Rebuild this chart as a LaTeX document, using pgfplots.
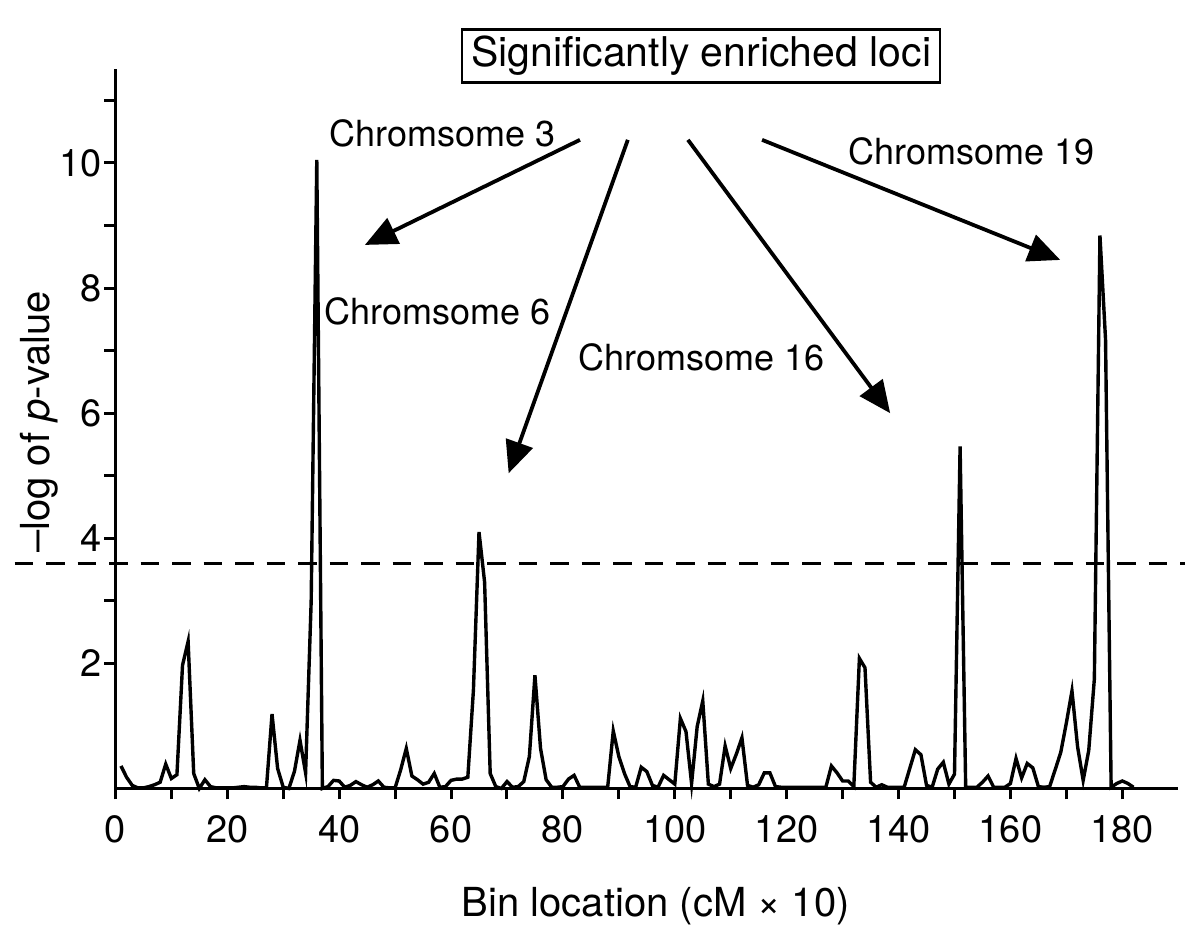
\documentclass[border=0pt]{standalone}
\usepackage{fontspec}
\setmainfont{TeX Gyre Heros}
\usepackage{pgfplots}
\usepackage{pgfplotstable}
\pgfplotsset{compat=1.18}
\usetikzlibrary{arrows.meta}

% -log p-value per bin
\pgfplotstableread{
bin p
1 0.36
2 0.18
3 0.05
4 0.01
5 0.01
6 0.03
7 0.06
8 0.10
9 0.39
10 0.16
11 0.22
12 1.97
13 2.35
14 0.24
15 0.00
16 0.14
17 0.03
18 0.01
19 0.01
20 0.01
21 0.01
22 0.02
23 0.03
24 0.02
25 0.02
26 0.01
27 0.01
28 1.19
29 0.32
30 0.02
31 0.00
32 0.27
33 0.77
34 0.25
35 3.00
36 10.05
37 0.00
38 0.03
39 0.13
40 0.12
41 0.02
42 0.05
43 0.11
44 0.06
45 0.02
46 0.06
47 0.12
48 0.02
49 0.01
50 0.01
51 0.30
52 0.64
53 0.20
54 0.14
55 0.07
56 0.10
57 0.24
58 0.02
59 0.03
60 0.13
61 0.15
62 0.15
63 0.18
64 1.57
65 4.10
66 3.30
67 0.24
68 0.03
69 0.00
70 0.11
71 0.02
72 0.03
73 0.11
74 0.51
75 1.81
76 0.64
77 0.14
78 0.02
79 0.02
80 0.03
81 0.15
82 0.21
83 0.02
84 0.02
85 0.02
86 0.02
87 0.02
88 0.02
89 0.92
90 0.51
91 0.24
92 0.03
93 0.02
94 0.34
95 0.27
96 0.05
97 0.02
98 0.21
99 0.14
100 0.07
101 1.12
102 0.91
103 0.08
104 0.99
105 1.40
106 0.07
107 0.03
108 0.07
109 0.68
110 0.32
111 0.55
112 0.81
113 0.05
114 0.02
115 0.06
116 0.25
117 0.25
118 0.03
119 0.02
120 0.02
121 0.02
122 0.02
123 0.02
124 0.02
125 0.02
126 0.02
127 0.02
128 0.36
129 0.25
130 0.12
131 0.12
132 0.03
133 2.08
134 1.93
135 0.10
136 0.02
137 0.06
138 0.02
139 0.02
140 0.02
141 0.02
142 0.32
143 0.62
144 0.54
145 0.05
146 0.02
147 0.31
148 0.42
149 0.07
150 0.23
151 5.47
152 0.02
153 0.02
154 0.02
155 0.10
156 0.20
157 0.02
158 0.02
159 0.02
160 0.08
161 0.48
162 0.17
163 0.40
164 0.33
165 0.03
166 0.02
167 0.03
168 0.30
169 0.58
170 1.05
171 1.56
172 0.67
173 0.13
174 0.61
175 1.75
176 8.84
177 7.18
178 0.02
179 0.08
180 0.12
181 0.08
182 0.02
}\scores

\begin{document}
\begin{tikzpicture}
\useasboundingbox (-57.7pt,-79.25pt) rectangle (542.3pt,394.25pt);
\begin{axis}[
  anchor=south west, at={(0,0)},
  x=2.797pt, y=31.275pt,
  xmin=0, xmax=190, ymin=0, ymax=11.5,
  axis lines*=left,
  axis line style={line width=1.6pt},
  every tick/.style={black, line width=1.5pt},
  tick align=outside,
  major tick length=5.5pt, minor tick length=5.5pt,
  xtick={0,20,...,180}, minor xtick={10,30,...,170},
  ytick={2,4,6,8,10}, minor ytick={3,5,7,9,11},
  tick label style={font=\fontsize{19}{19}\selectfont},
  /pgf/number format/assume math mode=true,
  xticklabel style={inner sep=0pt, yshift=-8pt},
  yticklabel style={inner sep=0pt, xshift=-1pt},
  clip=false,
]
\addplot[black, line width=1.7pt] table[x=bin, y=p] {\scores};

% significance threshold
\draw[black, line width=1.5pt, dash pattern=on 9.25pt off 6.5pt]
  (axis cs:-18,3.59) -- (axis cs:191.2,3.59);

% axis titles
\node[anchor=base, inner sep=0pt, font=\fontsize{20}{20}\selectfont]
  at (axis cs:96.6,-2.04) {Bin location (cM × 10)};
\node[rotate=90, font=\fontsize{20}{20}\selectfont]
  at (axis cs:-13.6,5.86) {–log of \textit{p}-value};

\node[draw, line width=1.3pt, minimum width=239pt, minimum height=26pt,
  font=\fontsize{20.5}{20.5}\selectfont] at (axis cs:104.7,11.71) {Significantly enriched loci};

\draw[line width=1.9pt, -{Triangle[length=16pt,width=14pt]}] (axis cs:83.05,10.37) -- (axis cs:44.6,8.69);
\draw[line width=1.9pt, -{Triangle[length=16pt,width=14pt]}] (axis cs:91.6,10.37) -- (axis cs:70.3,5.04);
\draw[line width=1.9pt, -{Triangle[length=16pt,width=14pt]}] (axis cs:102.35,10.37) -- (axis cs:138.5,6.0);
\draw[line width=1.9pt, -{Triangle[length=16pt,width=14pt]}] (axis cs:115.6,10.37) -- (axis cs:168.9,8.45);

\node[font=\fontsize{18}{18}\selectfont] at (axis cs:58.4,10.48) {Chromsome 3};
\node[font=\fontsize{18}{18}\selectfont] at (axis cs:57.65,7.63) {Chromsome 6};
\node[font=\fontsize{18}{18}\selectfont] at (axis cs:104.85,6.9) {Chromsome 16};
\node[font=\fontsize{18}{18}\selectfont] at (axis cs:153.1,10.19) {Chromsome 19};
\end{axis}
\end{tikzpicture}
\end{document}
